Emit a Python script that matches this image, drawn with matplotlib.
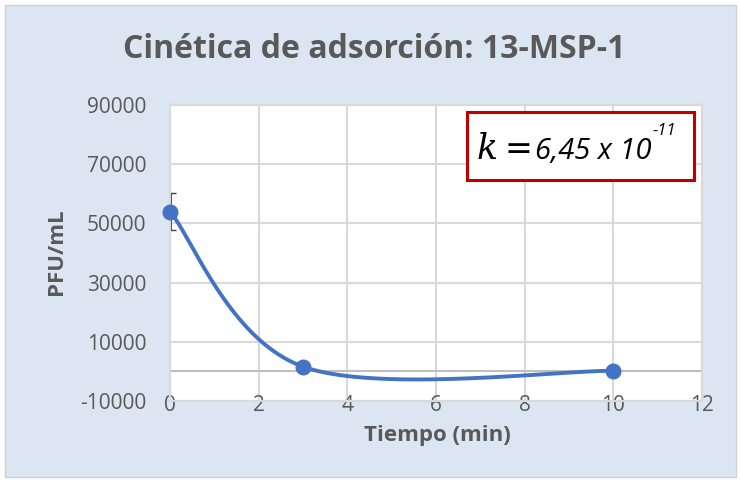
import numpy as np
import matplotlib
matplotlib.use("Agg")
import matplotlib.pyplot as plt
from matplotlib.patches import Rectangle

# ---- data ----
time_min = [0, 3, 10]
pfu_ml = [54000, 1600, 200]
pfu_err = [6200, 0, 0]
x_ticks = [0, 2, 4, 6, 8, 10, 12]
y_ticks = [-10000, 10000, 30000, 50000, 70000, 90000]
title = "Cinética de adsorción: 13-MSP-1"
x_label = "Tiempo (min)"
y_label = "PFU/mL"

W, H = 740, 482
fig = plt.figure(figsize=(W / 100, H / 100), dpi=100)
fig.patch.set_facecolor("white")
fig.patches.append(Rectangle((5 / W, 5 / H), 731 / W, 472 / H, transform=fig.transFigure,
                             facecolor="#dce6f2", edgecolor="#d0d0d0", lw=1, zorder=-10))

ax = fig.add_axes([170 / W, 1 - 401 / H, 532 / W, 296 / H])
ax.set_facecolor("white")
ax.set_xlim(0, 12)
ax.set_ylim(-10000, 90000)
ax.set_xticks(x_ticks)
ax.set_yticks(y_ticks)
ax.set_xticklabels([str(v) for v in x_ticks])
ax.set_yticklabels([str(v) for v in y_ticks])
gridc = "#d9d9d9"
ax.grid(True, color=gridc, lw=1.5)
ax.set_axisbelow(True)
for s in ax.spines.values():
    s.set_color(gridc)
    s.set_linewidth(1.5)
ax.axhline(0, color="#bfbfbf", lw=1.5, zorder=1)
ax.tick_params(length=0, labelsize=15, labelcolor="#595959")
ax.tick_params(axis="x", pad=-4)
ax.tick_params(axis="y", pad=17)
for lab in ax.get_xticklabels() + ax.get_yticklabels():
    lab.set_family("Open Sans")

# Excel-like smoothed line (cardinal Bezier through the points)
P = np.column_stack([time_min, pfu_ml]).astype(float)
pts = []
n = len(P)
for i in range(n - 1):
    p0 = P[i - 1] if i > 0 else P[i]
    p1, p2 = P[i], P[i + 1]
    p3 = P[i + 2] if i + 2 < n else P[i + 1]
    c1 = p1 + (p2 - p0) / 6
    c2 = p2 - (p3 - p1) / 6
    t = np.linspace(0, 1, 80)[:, None]
    seg = (1 - t) ** 3 * p1 + 3 * (1 - t) ** 2 * t * c1 + 3 * (1 - t) * t ** 2 * c2 + t ** 3 * p2
    pts.append(seg)
curve = np.vstack(pts)
blue = "#4472c4"
ax.plot(curve[:, 0], curve[:, 1], color=blue, lw=2.8, zorder=3, clip_on=False,
        solid_capstyle="round")
ax.errorbar(time_min[:1], pfu_ml[:1], yerr=pfu_err[:1], fmt="none", ecolor="#404040",
            elinewidth=2, capsize=4, capthick=1, zorder=2)
ax.plot(time_min, pfu_ml, "o", color=blue, ms=10.5, zorder=4, clip_on=False)

fig.text(374 / W, 1 - 50 / H, title, ha="center", va="center", fontsize=23,
         fontweight="bold", color="#595959", family="Open Sans")
fig.text(437 / W, 1 - 436 / H, x_label, ha="center", va="center", fontsize=16,
         fontweight="bold", color="#595959", family="Open Sans")
fig.text(56 / W, 1 - 252 / H, y_label, ha="center", va="center", fontsize=16,
         fontweight="bold", color="#595959", family="Open Sans", rotation=90)

# k annotation box
fig.patches.append(Rectangle((467 / W, 1 - 180 / H), 227 / W, 68 / H, transform=fig.transFigure,
                             facecolor="white", edgecolor="#c00000", lw=2.2, zorder=5))
by = 1 - 159 / H
fig.text(477 / W, by, "k", fontsize=25, style="italic", family="DejaVu Serif",
         va="baseline", color="black", zorder=6)
fig.text(505 / W, by, "=", fontsize=24, family="DejaVu Serif", va="baseline",
         color="black", zorder=6)
fig.text(535 / W, by, "6,45 x 10", fontsize=21, style="italic", family="Open Sans",
         va="baseline", color="black", zorder=6)
fig.text(653 / W, 1 - 135 / H, "-11", fontsize=12, style="italic", family="Open Sans",
         va="baseline", color="black", zorder=6)

fig.savefig("out.png", dpi=100)
